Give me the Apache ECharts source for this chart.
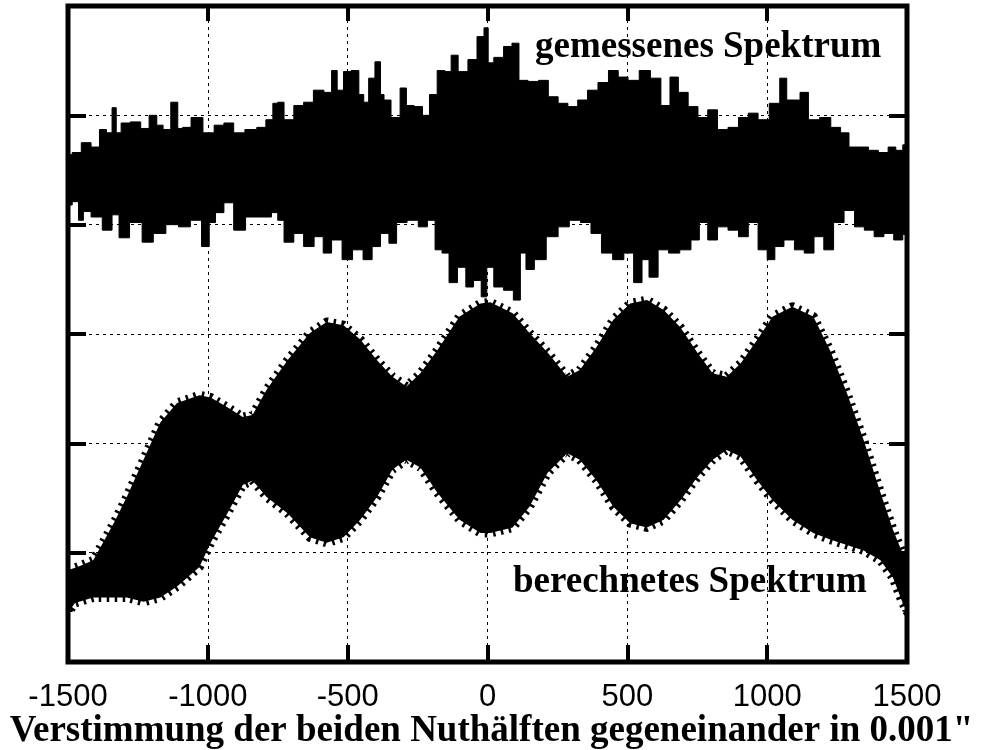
<!DOCTYPE html>
<html>
<head>
<meta charset="utf-8">
<script src="https://cdn.jsdelivr.net/npm/echarts@6/dist/echarts.min.js"></script>
<style>
  html, body { margin: 0; padding: 0; background: #fff; }
  #chart { width: 983px; height: 750px; }
</style>
</head>
<body>
<div id="chart"></div>
<script>
// Detuning axis (0.001") and an unlabelled intensity scale (0..6)
const xTickValues = [-1500, -1000, -500, 0, 500, 1000, 1500];

// Measured spectrum: upper and lower envelope of the dense trace
const measuredUpperX = [-1500,-1470,-1435,-1400,-1375,-1350,-1335,-1320,-1300,-1255,-1225,-1195,-1170,-1150,-1115,-1100,-1080,-1040,-995,-960,-925,-890,-845,-805,-780,-755,-745,-710,-675,-640,-605,-565,-550,-525,-505,-470,-450,-435,-415,-390,-375,-365,-325,-300,-280,-245,-220,-195,-165,-140,-120,-90,-50,-25,0,5,40,75,100,125,165,200,235,270,305,340,375,415,450,485,520,565,600,640,665,700,735,770,805,840,880,915,950,985,1030,1060,1080,1105,1130,1165,1210,1245,1280,1305,1345,1380,1415,1450,1470,1500];
const measuredUpperY = [4.64,4.66,4.75,4.71,4.87,4.84,5.07,4.84,4.93,4.94,4.88,5.00,4.91,4.87,5.12,4.88,4.89,4.98,4.84,4.91,4.93,4.84,4.87,4.89,4.96,5.11,5.12,4.96,5.09,5.12,5.23,5.21,5.41,5.23,5.40,5.41,5.19,5.12,5.34,5.49,5.19,5.14,4.98,5.25,5.09,5.08,5.00,5.19,5.41,5.40,5.55,5.40,5.51,5.72,5.80,5.48,5.53,5.63,5.66,5.32,5.31,5.32,5.17,5.11,5.08,5.14,5.23,5.30,5.41,5.35,5.32,5.41,5.34,5.09,5.35,5.21,5.08,4.98,5.05,4.87,4.89,4.98,5.02,4.96,5.11,5.34,5.14,5.14,5.21,4.96,4.98,4.89,4.84,4.71,4.71,4.68,4.66,4.71,4.68,4.73];
const measuredLowerX = [-1500,-1470,-1455,-1435,-1400,-1355,-1330,-1305,-1255,-1215,-1175,-1125,-1085,-1040,-1005,-985,-960,-925,-890,-840,-790,-755,-745,-710,-675,-640,-600,-575,-540,-500,-465,-425,-400,-365,-340,-310,-265,-230,-200,-175,-150,-125,-90,-65,-35,-10,5,40,75,110,125,150,185,235,270,315,350,390,425,470,505,540,565,590,630,665,710,745,770,805,840,880,915,950,985,1015,1040,1080,1115,1150,1185,1220,1255,1295,1330,1365,1400,1435,1470,1500];
const measuredLowerY = [4.18,4.21,4.04,4.12,4.07,3.95,4.09,3.88,4.02,3.84,3.92,4.00,3.98,4.04,3.80,4.02,4.11,4.20,3.95,4.07,4.07,4.11,4.04,3.84,3.92,3.80,3.89,3.74,3.86,3.68,3.77,3.68,3.80,3.92,3.83,4.02,4.04,3.98,4.04,3.77,3.74,3.47,3.61,3.43,3.49,3.34,3.61,3.43,3.40,3.31,3.74,3.59,3.68,3.89,3.98,4.04,4.02,3.92,3.74,3.68,3.74,3.47,3.68,3.52,3.77,3.74,3.77,3.86,4.02,3.86,3.98,3.95,3.89,4.02,3.77,3.68,3.80,3.86,3.77,3.74,3.89,3.77,4.02,4.13,3.98,3.95,3.89,3.92,3.86,3.91];

// Calculated spectrum: upper and lower envelope
const calcUpperX = [-1500,-1455,-1410,-1375,-1330,-1290,-1230,-1170,-1110,-1030,-990,-930,-875,-840,-790,-715,-635,-575,-515,-455,-395,-340,-290,-240,-180,-100,-25,10,90,150,215,285,330,390,450,510,570,630,690,750,805,855,905,965,1020,1090,1165,1225,1285,1345,1405,1450,1480,1500];
const calcUpperY = [0.84,0.88,0.93,1.09,1.30,1.51,1.85,2.19,2.37,2.44,2.42,2.33,2.24,2.26,2.49,2.76,3.01,3.11,3.08,2.95,2.76,2.61,2.52,2.64,2.85,3.16,3.28,3.29,3.19,3.01,2.83,2.61,2.67,2.88,3.13,3.28,3.31,3.22,3.06,2.83,2.64,2.61,2.73,2.95,3.16,3.25,3.16,2.85,2.46,2.03,1.55,1.21,1.02,0.93];
const calcLowerX = [-1500,-1475,-1410,-1290,-1230,-1170,-1110,-1030,-990,-930,-875,-840,-790,-715,-635,-575,-515,-455,-395,-340,-290,-240,-180,-100,-25,10,90,150,215,285,330,390,450,510,570,630,690,750,805,855,905,965,1020,1090,1165,1225,1285,1345,1405,1450,1480,1500];
const calcLowerY = [0.45,0.54,0.59,0.59,0.55,0.59,0.69,0.87,1.09,1.36,1.62,1.66,1.51,1.36,1.14,1.09,1.14,1.30,1.51,1.76,1.85,1.78,1.55,1.30,1.18,1.18,1.23,1.42,1.73,1.91,1.85,1.66,1.42,1.27,1.23,1.30,1.48,1.69,1.85,1.94,1.88,1.66,1.48,1.30,1.18,1.12,1.07,1.02,0.93,0.77,0.57,0.46];

const labelMeasured = 'gemessenes Spektrum';
const labelCalculated = 'berechnetes Spektrum';
const axisTitle = 'Verstimmung der beiden Nuthälften gegeneinander in 0.001"';

// Pixel outline of one envelope; 'step' gives each sample its own column
function outline(api, xs, ys, step) {
  const px = xs.map(function (x, i) { return api.coord([x, ys[i]]); });
  if (!step) return px;
  const out = [];
  for (let i = 0; i < px.length; i++) {
    const xl = i === 0 ? px[i][0] : (px[i - 1][0] + px[i][0]) / 2;
    const xr = i === px.length - 1 ? px[i][0] : (px[i][0] + px[i + 1][0]) / 2;
    out.push([xl, px[i][1]], [xr, px[i][1]]);
  }
  return out;
}

// Filled band between an upper and a lower envelope, drawn through the axes
function bandSeries(name, upX, upY, loX, loY, step, edge) {
  return {
    name: name,
    type: 'custom',
    coordinateSystem: 'cartesian2d',
    silent: true,
    clip: true,
    z: 3,
    data: [[0, 0]],
    renderItem: function (params, api) {
      const top = outline(api, upX, upY, step);
      const bottom = outline(api, loX, loY, step).reverse();
      const pts = top.concat(bottom);
      return {
        type: 'polygon',
        shape: { points: pts },
        style: Object.assign({ fill: '#000', stroke: '#000', lineWidth: 1, lineJoin: 'miter' }, edge || {})
      };
    }
  };
}

const sansNum = "'Liberation Sans', Arial, Helvetica, sans-serif";
const serifFont = "bold 37px 'Liberation Serif', 'Times New Roman', serif";
const dotted = { color: '#000', width: 1, type: [3, 4] };
const tickStyle = { color: '#000', width: 4 };

const chart = echarts.init(document.getElementById('chart'), null, { renderer: 'canvas' });
chart.setOption({
  animation: false,
  backgroundColor: '#fff',
  grid: {
    left: 68, right: 76, top: 6, bottom: 88,
    containLabel: false,
    outerBoundsMode: 'none',
    show: true, borderColor: '#000', borderWidth: 5, backgroundColor: 'transparent'
  },
  xAxis: [
    {
      type: 'value', min: xTickValues[0], max: xTickValues[xTickValues.length - 1], interval: 500,
      position: 'bottom',
      axisLine: { show: false, onZero: false },
      axisTick: { show: true, inside: true, length: 17, lineStyle: tickStyle },
      splitLine: { show: true, lineStyle: dotted },
      axisLabel: {
        show: true, color: '#000', fontSize: 31, fontFamily: sansNum, margin: 20,
        showMinLabel: true, showMaxLabel: true,
        formatter: function (v) { return String(v); }
      }
    },
    {
      type: 'value', min: xTickValues[0], max: xTickValues[xTickValues.length - 1], interval: 500,
      position: 'top',
      axisLine: { show: false, onZero: false },
      axisTick: { show: true, inside: true, length: 15, lineStyle: tickStyle },
      splitLine: { show: false },
      axisLabel: { show: false }
    }
  ],
  yAxis: [
    {
      type: 'value', min: 0, max: 6, interval: 1, position: 'left',
      axisLine: { show: false, onZero: false },
      axisTick: { show: true, inside: true, length: 18, lineStyle: tickStyle },
      splitLine: { show: true, lineStyle: dotted },
      axisLabel: { show: false }
    },
    {
      type: 'value', min: 0, max: 6, interval: 1, position: 'right',
      axisLine: { show: false, onZero: false },
      axisTick: { show: true, inside: true, length: 18, lineStyle: tickStyle },
      splitLine: { show: false },
      axisLabel: { show: false }
    }
  ],
  graphic: [
    {
      type: 'text', left: 535, top: 29, z: 10,
      style: { text: labelMeasured, fill: '#000', font: serifFont }
    },
    {
      type: 'text', left: 513, top: 564, z: 10,
      style: { text: labelCalculated, fill: '#000', font: serifFont }
    },
    {
      type: 'text', left: 'center', top: 713, z: 10,
      style: { text: axisTitle, fill: '#000', font: serifFont }
    }
  ],
  series: [
    bandSeries('gemessen', measuredUpperX, measuredUpperY, measuredLowerX, measuredLowerY, true, null),
    bandSeries('berechnet', calcUpperX, calcUpperY, calcLowerX, calcLowerY, false,
      { lineWidth: 9, lineDash: [2.5, 5.5], lineJoin: 'round' })
  ]
});
</script>
</body>
</html>
